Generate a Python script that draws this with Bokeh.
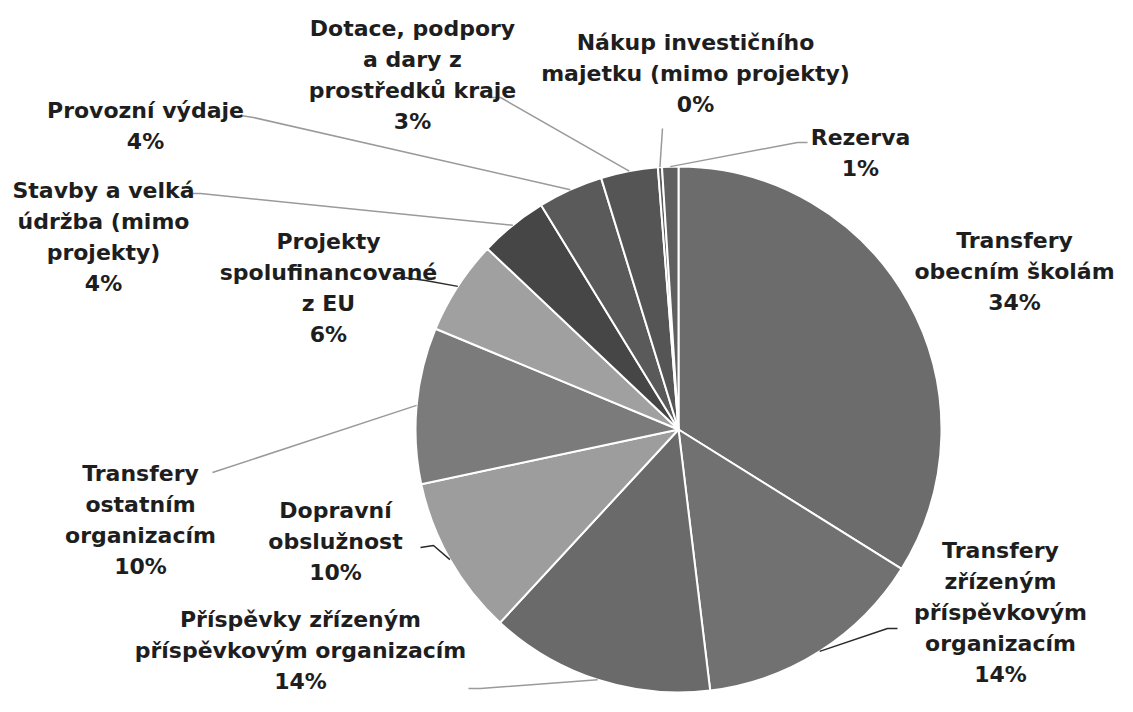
from math import radians, sin, cos
from bokeh.plotting import figure
from bokeh.models import ColumnDataSource, Range1d
from bokeh.core.properties import value
from bokeh.embed import file_html
from bokeh.resources import INLINE

# ---- data ----
categories = [
    "Transfery obecním školám",
    "Transfery zřízeným příspěvkovým organizacím",
    "Příspěvky zřízeným příspěvkovým organizacím",
    "Dopravní obslužnost",
    "Transfery ostatním organizacím",
    "Projekty spolufinancované z EU",
    "Stavby a velká údržba (mimo projekty)",
    "Provozní výdaje",
    "Dotace, podpory a dary z prostředků kraje",
    "Nákup investičního majetku (mimo projekty)",
    "Rezerva",
]
shares = [33.9, 14.2, 13.8, 9.8, 9.6, 5.8, 4.2, 4.0, 3.5, 0.25, 1.0]
pct_labels = ["34%", "14%", "14%", "10%", "10%", "6%", "4%", "4%", "3%", "0%", "1%"]
label_texts = [
    "Transfery\nobecním školám",
    "Transfery\nzřízeným\npříspěvkovým\norganizacím",
    "Příspěvky zřízeným\npříspěvkovým organizacím",
    "Dopravní\nobslužnost",
    "Transfery\nostatním\norganizacím",
    "Projekty\nspolufinancované\nz EU",
    "Stavby a velká\núdržba (mimo\nprojekty)",
    "Provozní výdaje",
    "Dotace, podpory\na dary z\nprostředků kraje",
    "Nákup investičního\nmajetku (mimo projekty)",
    "Rezerva",
]
colors = ["#6c6c6c", "#717171", "#6a6a6a", "#9d9d9d", "#7b7b7b", "#a0a0a0",
          "#464646", "#5a5a5a", "#555555", "#5c5c5c", "#5f5f5f"]

# ---- layout (pixel positions, y measured from top of the plot) ----
PW, PH = 1117, 696
CX, CY, R = 678, 429, 263
label_pos = [(1014, 271), (1000, 612), (300, 650), (335, 541), (140, 519),
             (328, 287), (103, 236), (145, 125), (412, 74), (695, 73), (860, 152)]
# leader starting points near the labels (None = no leader)
leader_start = [None, [(897, 628), (887, 628)], [(468, 688), (480, 688)],
                [(420, 547), (433, 545)], [(212, 472)], [(403, 277), (425, 280)],
                [(192, 193), (200, 193)], [(240, 115), (253, 117)],
                [(488, 97), (500, 97)], [(662, 128)], [(807, 142), (797, 142)]]
leader_color = [None, "#2a2a2a", "#9a9a9a", "#2a2a2a", "#9a9a9a", "#2a2a2a",
                "#9a9a9a", "#9a9a9a", "#9a9a9a", "#9a9a9a", "#9a9a9a"]

def Y(y):
    return PH - y

total = sum(shares)
starts, ends, mids = [], [], []
cum = 0.0
for s in shares:
    a0 = cum / total * 360.0
    cum += s
    a1 = cum / total * 360.0
    starts.append(radians(90 - a0))
    ends.append(radians(90 - a1))
    mids.append((a0 + a1) / 2)

p = figure(width=PW, height=PH, output_backend="svg", toolbar_location=None,
           x_range=Range1d(0, PW), y_range=Range1d(0, PH), min_border=0)
p.axis.visible = False
p.grid.visible = False
p.outline_line_color = None
p.background_fill_color = "white"
p.border_fill_color = "white"

src = ColumnDataSource(dict(cat=categories, start=starts, end=ends, color=colors,
                            x=[CX] * len(shares), y=[Y(CY)] * len(shares)))
p.wedge(x="x", y="y", radius=R, start_angle="start", end_angle="end",
        direction="clock", fill_color="color", line_color="white", line_width=2,
        source=src)

# leaders
for i, pts in enumerate(leader_start):
    if pts is None:
        continue
    m = radians(mids[i])
    ex = CX + R * sin(m)
    ey = CY - R * cos(m)
    xs = [q[0] for q in pts] + [ex]
    ys = [Y(q[1]) for q in pts] + [Y(ey)]
    p.line(xs, ys, line_color=leader_color[i], line_width=1.5)

# labels
full = [t + "\n" + pc for t, pc in zip(label_texts, pct_labels)]
lsrc = ColumnDataSource(dict(x=[q[0] for q in label_pos], y=[Y(q[1]) for q in label_pos],
                             text=full))
p.text(x="x", y="y", text="text", source=lsrc, text_align="center",
       text_baseline="middle", text_font=value("DejaVu Sans"), text_font_style="bold",
       text_font_size="22px", text_color="#1e1e1e", text_line_height=1.24)

open("out.html", "w").write(file_html(p, INLINE))
